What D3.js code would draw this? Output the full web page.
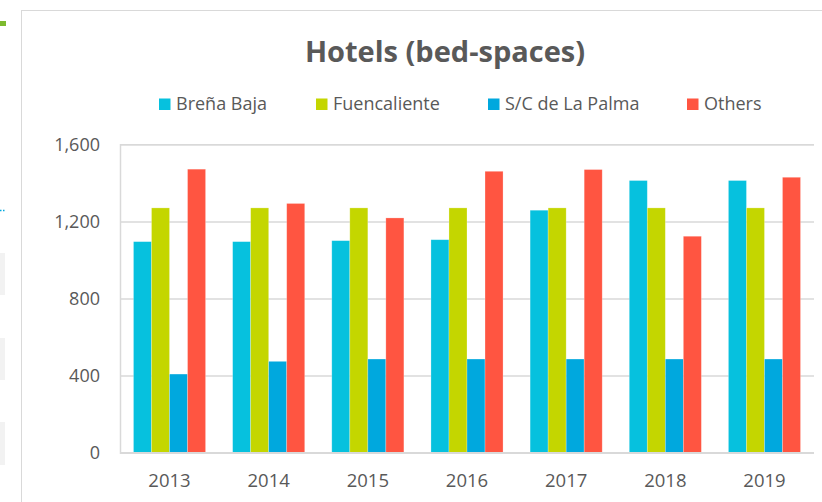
<!DOCTYPE html>
<html><head><meta charset="utf-8">
<script src="https://cdn.jsdelivr.net/npm/d3@7"></script>
<style>html,body{margin:0;padding:0;background:#fff;}svg{display:block;}</style>
</head><body>
<svg id="c" width="822" height="502"></svg>
<script>
const years = ["2013","2014","2015","2016","2017","2018","2019"];
const seriesNames = ["Breña Baja","Fuencaliente","S/C de La Palma","Others"];
const brenaBaja = [1095,1095,1100,1105,1258,1412,1412];
const fuencaliente = [1270,1270,1270,1270,1270,1270,1270];
const scLaPalma = [408,474,486,486,486,486,486];
const others = [1471,1293,1218,1460,1469,1123,1429];
const yTicks = [0,400,800,1200,1600];
const colors = ["#06C1DE","#C4D600","#00A8DE","#FF5541"];

const seriesValues = [brenaBaja, fuencaliente, scLaPalma, others];
const svg = d3.select("#c");
const font = "'Open Sans', sans-serif";
const grey = "#595959";

// decorative page remnants on the left
svg.append("rect").attr("x",0).attr("y",21).attr("width",6).attr("height",5).attr("fill","#7DBA2F");
svg.append("line").attr("x1",0).attr("x2",6).attr("y1",210.5).attr("y2",210.5)
  .attr("stroke","#00A8DE").attr("stroke-width",1.5).attr("stroke-dasharray","1.5,1.5");
[[253,295],[338,380],[422,465]].forEach(([a,b])=>{
  svg.append("rect").attr("x",0).attr("y",a).attr("width",5).attr("height",b-a).attr("fill","#f2f2f2");
});

// chart frame
svg.append("rect").attr("x",21.5).attr("y",10.5).attr("width",900).attr("height",600)
  .attr("fill","#fff").attr("stroke","#d9d9d9").attr("stroke-width",1);

const m = {left:120, right:814, top:144.3, bottom:452.7};
const x0 = d3.scaleBand().domain(years).range([m.left,m.right]).paddingInner(0.273).paddingOuter(0.136);
const x1 = d3.scaleBand().domain(d3.range(4)).range([0,x0.bandwidth()]);
const y = d3.scaleLinear().domain([0,1600]).range([m.bottom,m.top]);

// gridlines
const yAxis = d3.axisLeft(y).tickValues(yTicks).tickSize(-(m.right-m.left)).tickFormat(d3.format(","));
const ga = svg.append("g").attr("transform",`translate(${m.left},0)`).call(yAxis);
ga.select(".domain").attr("stroke","#d9d9d9").attr("stroke-width",1.5);
ga.selectAll(".tick line").attr("stroke","#d9d9d9").attr("stroke-width",1.5);
ga.selectAll(".tick text").attr("x",-20).attr("fill",grey)
  .style("font-family",font).style("font-size","18px");

// bars
const g = svg.append("g");
years.forEach((yr,i)=>{
  seriesValues.forEach((vals,s)=>{
    g.append("rect")
      .attr("x",x0(yr)+x1(s))
      .attr("y",y(vals[i]))
      .attr("width",x1.bandwidth())
      .attr("height",y(0)-y(vals[i]))
      .attr("fill",colors[s])
      .attr("stroke","rgba(255,255,255,0.35)").attr("stroke-width",0.7);
  });
});

// baseline
svg.append("line").attr("x1",m.left).attr("x2",m.right).attr("y1",y(0)).attr("y2",y(0))
  .attr("stroke","#d9d9d9").attr("stroke-width",1.5);

// x axis labels
const xAxis = d3.axisBottom(x0).tickSize(0).tickPadding(0);
const gx = svg.append("g").attr("transform",`translate(0,${m.bottom})`).call(xAxis);
gx.select(".domain").remove();
gx.selectAll(".tick text").attr("y",34).attr("dy",0).attr("fill",grey)
  .style("font-family",font).style("font-size","18.5px");

// title
svg.append("text").attr("x",445).attr("y",62).attr("text-anchor","middle")
  .attr("fill",grey).style("font-family",font).style("font-size","29px").style("font-weight","bold")
  .text("Hotels (bed-spaces)");

// legend
const legX = [159,316,488,687];
seriesNames.forEach((n,i)=>{
  svg.append("rect").attr("x",legX[i]).attr("y",98.5).attr("width",11.5).attr("height",11.5).attr("fill",colors[i]);
  svg.append("text").attr("x",legX[i]+17).attr("y",110).attr("fill",grey)
    .style("font-family",font).style("font-size","18px").text(n);
});
</script>
</body></html>
